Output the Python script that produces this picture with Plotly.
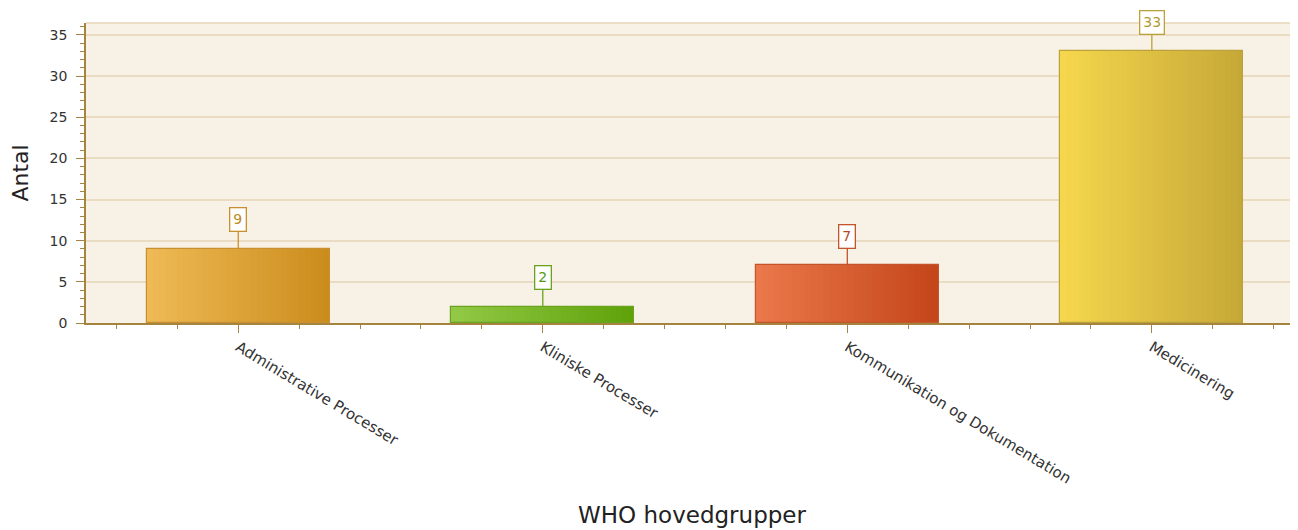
import plotly.graph_objects as go

categories = ["Administrative Processer", "Kliniske Processer", "Kommunikation og Dokumentation", "Medicinering"]
values = [9, 2, 7, 33]
color_left = ["#eeba55", "#92c845", "#ea784a", "#f5d64c"]
color_right = ["#cb8c1c", "#5fa20a", "#c4461a", "#c6a838"]
border_colors = ["#c99032", "#6aa41e", "#c4542c", "#bca23a"]
label_colors = ["#c08a22", "#5a9a12", "#b8461e", "#b49a2e"]

y_title = "Antal"
x_title = "WHO hovedgrupper"


def hex2rgb(h):
    h = h.lstrip("#")
    return tuple(int(h[i:i + 2], 16) for i in (0, 2, 4))


def mix(c1, c2, t):
    a, b = hex2rgb(c1), hex2rgb(c2)
    return "rgb(%d,%d,%d)" % tuple(round(a[i] + (b[i] - a[i]) * t) for i in range(3))


BAR_W = 0.6
N = 30
fig = go.Figure()

# gradient bars made of thin strips
for i, v in enumerate(values):
    w = BAR_W / N
    fig.add_trace(go.Bar(
        x=[i] * N, y=[v] * N,
        offset=[-BAR_W / 2 + k * w for k in range(N)],
        width=[w * 1.15 if k < N - 1 else w for k in range(N)],
        marker=dict(color=[mix(color_left[i], color_right[i], k / (N - 1)) for k in range(N)],
                    line=dict(width=0)),
        hoverinfo="skip", showlegend=False,
    ))

# outlines
fig.add_trace(go.Bar(
    x=list(range(len(values))), y=values, width=BAR_W,
    marker=dict(color="rgba(0,0,0,0)", line=dict(color=border_colors, width=1.2)),
    showlegend=False, hovertemplate="%{y}<extra></extra>",
))

for i, v in enumerate(values):
    fig.add_annotation(
        x=i, y=v, text=str(v), showarrow=True, arrowhead=0, arrowwidth=1.3,
        arrowcolor=border_colors[i], ax=0, ay=-29,
        font=dict(family="DejaVu Sans", size=14, color=label_colors[i]),
        bgcolor="white", bordercolor=border_colors[i], borderwidth=1.3, borderpad=3,
    )

axis_col = "#a4843e"
# page body has an 8px margin, so the figure is sized/offset to compensate
fig.update_layout(
    width=1290, height=522,
    margin=dict(l=78, r=0, t=15, b=207),
    paper_bgcolor="white", plot_bgcolor="#f8f1e6",
    barmode="overlay", bargap=0,
    font=dict(family="DejaVu Sans", color="#333333"),
    xaxis=dict(
        range=[-0.5, 3.48], tickvals=list(range(len(categories))), ticktext=categories,
        tickangle=31, tickfont=dict(size=15, color="#333333"),
        ticks="outside", ticklen=8, tickcolor=axis_col, tickwidth=1.2,
        minor=dict(dtick=0.2, tick0=0, ticks="outside", ticklen=4, tickcolor=axis_col, showgrid=False),
        showline=True, linecolor=axis_col, linewidth=1.5, showgrid=False, zeroline=False,
        title=dict(text=x_title, font=dict(size=23, color="#222222"), standoff=20),
    ),
    yaxis=dict(
        range=[0, 36.45], dtick=5, tickfont=dict(size=14, color="#333333"),
        ticks="outside", ticklen=8, tickcolor=axis_col, tickwidth=1.2, ticklabelstandoff=6,
        minor=dict(dtick=1, ticks="outside", ticklen=4, tickcolor=axis_col, showgrid=False),
        showline=True, linecolor=axis_col, linewidth=1.5,
        showgrid=True, gridcolor="#eadcc2", gridwidth=1.5, zeroline=False,
        title=dict(text=y_title, font=dict(size=22, color="#222222"), standoff=16),
    ),
)
fig.add_shape(type="line", xref="paper", yref="paper", x0=0, x1=1, y0=1, y1=1,
              line=dict(color="#e6d6b8", width=1.5))

fig.write_html("out.html")
